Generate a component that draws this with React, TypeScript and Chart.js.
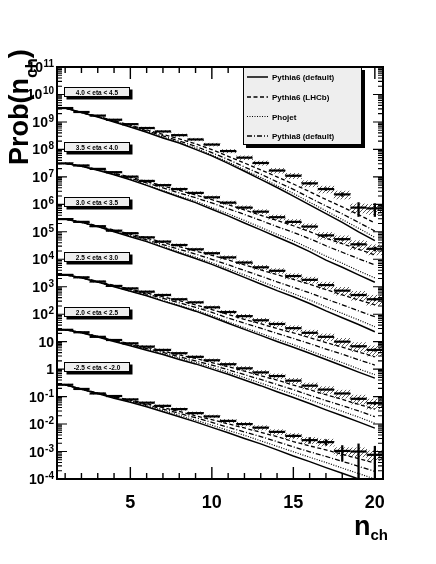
import React, { useEffect, useRef } from "react";
import { Chart, registerables } from "chart.js";

Chart.register(...registerables);

// ---------------- data ----------------
const nch = [1, 2, 3, 4, 5, 6, 7, 8, 9, 10, 11, 12, 13, 14, 15, 16, 17, 18, 19, 20];

const etaLabels = [
  "4.0 < eta < 4.5",
  "3.5 < eta < 4.0",
  "3.0 < eta < 3.5",
  "2.5 < eta < 3.0",
  "2.0 < eta < 2.5",
  "-2.5 < eta < -2.0",
];

const legendLabels = ["Pythia6 (default)", "Pythia6 (LHCb)", "Phojet", "Pythia8 (default)"];

// relative systematic uncertainty (hatched band)
const sysRel = [0.05, 0.05, 0.05, 0.06, 0.07, 0.08, 0.09, 0.1, 0.11, 0.12, 0.14, 0.16, 0.18, 0.2, 0.22, 0.25, 0.28, 0.32, 0.36, 0.4];

// 4.0 < eta < 4.5 (x 1e10)
const data_40_45 = [3.2e9, 2.3e9, 1.7e9, 1.2e9, 8.3e8, 6.0e8, 4.5e8, 3.3e8, 2.3e8, 1.5e8, 8.7e7, 5.0e7, 3.2e7, 1.7e7, 1.1e7, 5.8e6, 3.6e6, 2.3e6, 7.6e5, 7.1e5];
const stat_40_45 = [0, 0, 0, 0, 0, 0, 0, 0, 0, 0, 0, 0, 0, 0, 8e5, 4.5e5, 4e5, 3.5e5, 4e5, 3.5e5];
const p6def_40_45 = [3.2e9, 2.2e9, 1.5e9, 1.0e9, 6.5e8, 4.2e8, 2.6e8, 1.7e8, 1.0e8, 5.8e7, 3.1e7, 1.6e7, 8.1e6, 4.1e6, 2.0e6, 9.5e5, 4.6e5, 2.2e5, 1.0e5, 4.8e4];
const p6lhcb_40_45 = [3.2e9, 2.2e9, 1.6e9, 1.1e9, 7.6e8, 5.1e8, 3.5e8, 2.4e8, 1.6e8, 9.8e7, 5.6e7, 3.2e7, 1.8e7, 1.0e7, 5.5e6, 2.9e6, 1.5e6, 8.1e5, 4.2e5, 2.1e5];
const phojet_40_45 = [3.2e9, 2.2e9, 1.55e9, 1.05e9, 6.6e8, 4.4e8, 2.8e8, 1.8e8, 1.1e8, 6.3e7, 3.5e7, 1.8e7, 9.5e6, 4.8e6, 2.5e6, 1.2e6, 5.8e5, 2.8e5, 1.35e5, 6.3e4];
const p8def_40_45 = [3.2e9, 2.2e9, 1.55e9, 1.07e9, 7.1e8, 4.7e8, 3.1e8, 2.0e8, 1.3e8, 7.6e7, 4.3e7, 2.3e7, 1.26e7, 6.6e6, 3.5e6, 1.74e6, 8.7e5, 4.5e5, 2.2e5, 1.07e5];

// 3.5 < eta < 4.0 (x 1e8)
const data_35_40 = [3.1e7, 2.6e7, 1.95e7, 1.48e7, 1.02e7, 7.1e6, 5.0e6, 3.6e6, 2.6e6, 1.8e6, 1.15e6, 7.6e5, 5.4e5, 3.4e5, 2.3e5, 1.55e5, 7.4e4, 5.4e4, 3.5e4, 2.4e4];
const stat_35_40 = [0, 0, 0, 0, 0, 0, 0, 0, 0, 0, 0, 0, 0, 0, 0, 0, 6e3, 5e3, 5e3, 4e3];
const p6def_35_40 = [3.1e7, 2.45e7, 1.74e7, 1.2e7, 7.8e6, 4.9e6, 3.0e6, 1.86e6, 1.15e6, 6.6e5, 3.8e5, 2.1e5, 1.17e5, 6.5e4, 3.6e4, 1.9e4, 9.3e3, 5.1e3, 2.7e3, 1.45e3];
const p6lhcb_35_40 = [3.1e7, 2.5e7, 1.86e7, 1.38e7, 9.8e6, 6.8e6, 4.7e6, 3.2e6, 2.2e6, 1.48e6, 9.8e5, 6.3e5, 4.0e5, 2.6e5, 1.66e5, 1.02e5, 5.9e4, 3.7e4, 2.3e4, 1.45e4];
const phojet_35_40 = [3.1e7, 2.45e7, 1.78e7, 1.23e7, 8.1e6, 5.1e6, 3.2e6, 2.0e6, 1.3e6, 7.6e5, 4.5e5, 2.6e5, 1.45e5, 8.1e4, 4.7e4, 2.5e4, 1.3e4, 7.2e3, 3.8e3, 2.1e3];
const p8def_35_40 = [3.1e7, 2.45e7, 1.8e7, 1.3e7, 8.9e6, 6.0e6, 4.0e6, 2.6e6, 1.74e6, 1.12e6, 6.9e5, 4.3e5, 2.6e5, 1.55e5, 9.5e4, 5.6e4, 3.1e4, 1.8e4, 1.05e4, 6.3e3];

// 3.0 < eta < 3.5 (x 1e6)
const data_30_35 = [2.9e5, 2.3e5, 1.6e5, 1.1e5, 8.9e4, 6.3e4, 4.4e4, 3.3e4, 2.3e4, 1.66e4, 1.17e4, 7.6e3, 5.1e3, 3.8e3, 2.45e3, 1.78e3, 1.15e3, 720, 500, 350];
const stat_30_35 = [0, 0, 0, 0, 0, 0, 0, 0, 0, 0, 0, 0, 0, 0, 0, 0, 0, 0, 40, 35];
const p6def_30_35 = [2.9e5, 2.2e5, 1.55e5, 1.0e5, 6.6e4, 4.4e4, 2.7e4, 1.7e4, 1.07e4, 6.5e3, 3.8e3, 2.2e3, 1.26e3, 720, 430, 245, 132, 74, 42, 23];
const p6lhcb_30_35 = [2.9e5, 2.3e5, 1.62e5, 1.15e5, 8.3e4, 5.9e4, 4.1e4, 2.9e4, 2.0e4, 1.4e4, 9.5e3, 6.3e3, 4.1e3, 2.75e3, 1.86e3, 1.23e3, 790, 510, 330, 220];
const phojet_30_35 = [2.9e5, 2.2e5, 1.55e5, 1.02e5, 6.9e4, 4.6e4, 2.9e4, 1.86e4, 1.2e4, 7.4e3, 4.5e3, 2.7e3, 1.58e3, 930, 560, 330, 186, 107, 62, 35];
const p8def_30_35 = [2.9e5, 2.2e5, 1.6e5, 1.07e5, 7.6e4, 5.1e4, 3.4e4, 2.3e4, 1.55e4, 1.0e4, 6.3e3, 3.9e3, 2.45e3, 1.5e3, 950, 600, 360, 220, 132, 81];

// 2.5 < eta < 3.0 (x 1e4)
const data_25_30 = [2.7e3, 2.2e3, 1.55e3, 1.07e3, 870, 660, 500, 350, 270, 178, 120, 85, 60, 44, 31, 21, 15, 10, 6.8, 5.0];
const stat_25_30 = [0, 0, 0, 0, 0, 0, 0, 0, 0, 0, 0, 0, 0, 0, 0, 0, 0, 0, 0.6, 0.5];
const p6def_25_30 = [2.7e3, 2.1e3, 1.48e3, 1.0e3, 680, 470, 300, 200, 129, 79, 47, 28, 17, 10.2, 6.3, 3.8, 2.24, 1.32, 0.78, 0.47];
const p6lhcb_25_30 = [2.7e3, 2.2e3, 1.55e3, 1.12e3, 810, 600, 430, 310, 220, 148, 98, 65, 45, 30, 21, 14, 9.3, 6.3, 4.2, 2.8];
const phojet_25_30 = [2.7e3, 2.1e3, 1.48e3, 1.02e3, 690, 480, 320, 210, 141, 89, 52, 32, 20, 12.3, 7.8, 4.7, 2.8, 1.74, 1.02, 0.63];
const p8def_25_30 = [2.7e3, 2.1e3, 1.5e3, 1.07e3, 760, 540, 380, 260, 178, 117, 72, 47, 31, 20, 13.2, 8.5, 5.4, 3.5, 2.2, 1.41];

// 2.0 < eta < 2.5 (x 1e2)
const data_20_25 = [27, 22, 15, 11.5, 8.7, 6.6, 5.0, 3.8, 2.8, 2.1, 1.51, 1.07, 0.76, 0.56, 0.38, 0.25, 0.18, 0.13, 0.083, 0.058];
const stat_20_25 = [0, 0, 0, 0, 0, 0, 0, 0, 0, 0, 0, 0, 0, 0, 0, 0, 0, 0, 0.008, 0.007];
const p6def_20_25 = [27, 21, 14.8, 10.2, 7.1, 4.9, 3.4, 2.24, 1.55, 1.0, 0.65, 0.4, 0.25, 0.15, 0.093, 0.056, 0.033, 0.02, 0.012, 0.0071];
const p6lhcb_20_25 = [27, 22, 15.5, 11.2, 8.3, 6.2, 4.6, 3.3, 2.45, 1.74, 1.23, 0.85, 0.575, 0.4, 0.263, 0.178, 0.117, 0.079, 0.052, 0.035];
const phojet_20_25 = [27, 21, 15, 10.5, 7.4, 5.2, 3.6, 2.5, 1.74, 1.15, 0.76, 0.49, 0.31, 0.195, 0.123, 0.076, 0.047, 0.029, 0.018, 0.0107];
const p8def_20_25 = [27, 22, 15.5, 10.7, 7.8, 5.6, 4.1, 2.8, 2.0, 1.41, 0.95, 0.63, 0.42, 0.275, 0.178, 0.112, 0.072, 0.047, 0.03, 0.0186];

// -2.5 < eta < -2.0 (x 1)
const data_m25_m20 = [0.27, 0.19, 0.13, 0.105, 0.079, 0.06, 0.046, 0.035, 0.025, 0.019, 0.013, 0.01, 0.0074, 0.0052, 0.0037, 0.0026, 0.0022, 0.00105, 0.001, 0.00076];
const stat_m25_m20 = [0, 0, 0, 0, 0, 0, 0, 0, 0, 0, 0, 0, 0, 0, 0.0004, 0.0006, 0.0005, 0.0006, 0.0009, 0.0008];
const p6def_m25_m20 = [0.27, 0.186, 0.129, 0.087, 0.062, 0.043, 0.028, 0.0186, 0.012, 0.0076, 0.0048, 0.003, 0.0019, 0.00115, 0.00069, 0.00043, 0.00026, 0.000162, 0.0001, 0.00006];
const p6lhcb_m25_m20 = [0.27, 0.19, 0.135, 0.098, 0.074, 0.055, 0.04, 0.029, 0.02, 0.0145, 0.0102, 0.0072, 0.005, 0.0035, 0.0023, 0.0016, 0.00115, 0.00079, 0.00055, 0.00038];
const phojet_m25_m20 = [0.27, 0.186, 0.129, 0.091, 0.065, 0.046, 0.031, 0.021, 0.0138, 0.0091, 0.0059, 0.0039, 0.00245, 0.00155, 0.00098, 0.00062, 0.0004, 0.00025, 0.000158, 0.0001];
const p8def_m25_m20 = [0.27, 0.186, 0.132, 0.093, 0.069, 0.05, 0.035, 0.0245, 0.017, 0.0115, 0.0076, 0.0052, 0.0035, 0.0023, 0.00148, 0.00098, 0.00066, 0.00044, 0.00029, 0.00019];

const groups = [
  { data: data_40_45, stat: stat_40_45, mc: [p6def_40_45, p6lhcb_40_45, phojet_40_45, p8def_40_45] },
  { data: data_35_40, stat: stat_35_40, mc: [p6def_35_40, p6lhcb_35_40, phojet_35_40, p8def_35_40] },
  { data: data_30_35, stat: stat_30_35, mc: [p6def_30_35, p6lhcb_30_35, phojet_30_35, p8def_30_35] },
  { data: data_25_30, stat: stat_25_30, mc: [p6def_25_30, p6lhcb_25_30, phojet_25_30, p8def_25_30] },
  { data: data_20_25, stat: stat_20_25, mc: [p6def_20_25, p6lhcb_20_25, phojet_20_25, p8def_20_25] },
  { data: data_m25_m20, stat: stat_m25_m20, mc: [p6def_m25_m20, p6lhcb_m25_m20, phojet_m25_m20, p8def_m25_m20] },
];

// ---------------- styling ----------------
const FONT = "'Liberation Sans', Arial, Helvetica, sans-serif";
const MC_DASH: number[][] = [[], [4, 2.5], [1, 1.5], [5, 2, 1, 2]];
const MC_WIDTH = [1.5, 1.3, 1.2, 1.3];
const ETA_LABEL_POS = [1.2e10, 1.2e8, 1.2e6, 1.2e4, 1.2e2, 1.2];

function makeHatch(): CanvasPattern | string {
  const c = document.createElement("canvas");
  c.width = 4;
  c.height = 4;
  const g = c.getContext("2d");
  if (!g) return "rgba(0,0,0,0.3)";
  g.strokeStyle = "rgba(0,0,0,0.8)";
  g.lineWidth = 0.8;
  g.beginPath();
  g.moveTo(0, 4);
  g.lineTo(4, 0);
  g.moveTo(-1, 1);
  g.lineTo(1, -1);
  g.moveTo(3, 5);
  g.lineTo(5, 3);
  g.stroke();
  return g.createPattern(c, "repeat") || "rgba(0,0,0,0.3)";
}

const rootPlugin = {
  id: "rootStyle",
  afterDraw(chart: any) {
    const { ctx, chartArea: a } = chart;
    const x = chart.scales.x;
    const y = chart.scales.y;
    ctx.save();

    // ticks
    ctx.strokeStyle = "#000";
    ctx.lineWidth = 1.4;
    ctx.beginPath();
    for (const n of nch) {
      const px = x.getPixelForValue(n);
      const len = n % 5 === 0 ? 12 : 6;
      ctx.moveTo(px, a.bottom);
      ctx.lineTo(px, a.bottom - len);
      ctx.moveTo(px, a.top);
      ctx.lineTo(px, a.top + len);
    }
    ctx.stroke();
    ctx.lineWidth = 1.1;
    ctx.beginPath();
    for (let d = -4; d <= 11; d++) {
      for (let m = 1; m <= 9; m++) {
        if (d === 11 && m > 1) continue;
        const py = y.getPixelForValue(m * Math.pow(10, d));
        const len = m === 1 ? 10 : 5;
        ctx.moveTo(a.left, py);
        ctx.lineTo(a.left + len, py);
        ctx.moveTo(a.right, py);
        ctx.lineTo(a.right - len, py);
      }
    }
    ctx.stroke();

    // frame
    ctx.lineWidth = 2;
    ctx.strokeRect(a.left, a.top, a.right - a.left, a.bottom - a.top);

    // y tick labels
    ctx.fillStyle = "#000";
    ctx.textAlign = "left";
    ctx.textBaseline = "alphabetic";
    for (let d = -4; d <= 11; d++) {
      const py = y.getPixelForValue(Math.pow(10, d));
      const base = d === 0 ? "1" : "10";
      const sup = d === 0 || d === 1 ? "" : String(d);
      ctx.font = `bold 14px ${FONT}`;
      const wb = ctx.measureText(base).width;
      ctx.font = `bold 10px ${FONT}`;
      const ws = sup ? ctx.measureText(sup).width + 0.5 : 0;
      const right = a.left - 3;
      ctx.font = `bold 14px ${FONT}`;
      ctx.fillText(base, right - ws - wb, py + 5);
      if (sup) {
        ctx.font = `bold 10px ${FONT}`;
        ctx.fillText(sup, right - ws + 0.5, py);
      }
    }

    // x tick labels
    ctx.font = `bold 18px ${FONT}`;
    ctx.textAlign = "center";
    for (const v of [5, 10, 15, 20]) {
      ctx.fillText(String(v), x.getPixelForValue(v), a.bottom + 29);
    }

    // x title n_ch
    ctx.textAlign = "left";
    ctx.font = `bold 27px ${FONT}`;
    ctx.fillText("n", 354, 535);
    const wn = ctx.measureText("n").width;
    ctx.font = `bold 15px ${FONT}`;
    ctx.fillText("ch", 354 + wn, 540);

    // y title Prob(n_ch)
    ctx.save();
    ctx.translate(28, 165);
    ctx.rotate(-Math.PI / 2);
    ctx.font = `bold 27px ${FONT}`;
    ctx.fillText("Prob(n", 0, 0);
    let off = ctx.measureText("Prob(n").width;
    ctx.font = `bold 17px ${FONT}`;
    ctx.fillText("ch", off, 9);
    off += ctx.measureText("ch").width;
    ctx.font = `bold 27px ${FONT}`;
    ctx.fillText(")", off, 0);
    ctx.restore();

    // eta label boxes
    for (let i = 0; i < etaLabels.length; i++) {
      const cy = y.getPixelForValue(ETA_LABEL_POS[i]);
      const bx = 64, bw = 66, bh = 10;
      const by = Math.round(cy - bh / 2);
      ctx.fillStyle = "#000";
      ctx.fillRect(bx + 2.5, by + 2.5, bw, bh);
      ctx.fillStyle = "#eeeeee";
      ctx.fillRect(bx, by, bw, bh);
      ctx.strokeStyle = "#000";
      ctx.lineWidth = 1;
      ctx.strokeRect(bx + 0.5, by + 0.5, bw - 1, bh - 1);
      ctx.fillStyle = "#000";
      ctx.font = `bold 6.5px ${FONT}`;
      ctx.textAlign = "center";
      ctx.fillText(etaLabels[i], bx + bw / 2, by + 7.5);
    }

    // legend
    const lx = 243, ly = 67, lw = 119, lh = 78;
    ctx.fillStyle = "#000";
    ctx.fillRect(lx + 3, ly + 3, lw, lh);
    ctx.fillStyle = "#eeeeee";
    ctx.fillRect(lx, ly, lw, lh);
    ctx.strokeStyle = "#000";
    ctx.lineWidth = 1;
    ctx.strokeRect(lx + 0.5, ly + 0.5, lw - 1, lh - 1);
    const rows = [77, 97, 116.5, 136];
    for (let i = 0; i < legendLabels.length; i++) {
      const ry = rows[i];
      ctx.setLineDash(MC_DASH[i]);
      ctx.lineWidth = MC_WIDTH[i];
      ctx.beginPath();
      ctx.moveTo(247, ry);
      ctx.lineTo(268, ry);
      ctx.stroke();
      ctx.setLineDash([]);
      ctx.fillStyle = "#000";
      ctx.font = `bold 8px ${FONT}`;
      ctx.textAlign = "left";
      ctx.fillText(legendLabels[i], 272, ry + 3);
    }
    ctx.restore();
  },
};

export default function App() {
  const ref = useRef<HTMLCanvasElement>(null);

  useEffect(() => {
    document.body.style.margin = "0";
    const canvas = ref.current;
    if (!canvas) return;
    const hatch = makeHatch();

    const halfBin = (c: any) => {
      const sx = c.chart.scales.x;
      return Math.abs(sx.getPixelForValue(1.5) - sx.getPixelForValue(1));
    };

    const datasets: any[] = [];
    groups.forEach((g) => {
      // systematic band (hatched boxes)
      datasets.push({
        type: "bar",
        data: nch.map((n, i) => ({ x: n, y: [g.data[i] * (1 - sysRel[i]), g.data[i] * (1 + sysRel[i])] })),
        backgroundColor: hatch,
        borderWidth: 0,
        grouped: false,
        barPercentage: 1,
        categoryPercentage: 1,
        clip: 0,
        order: 3,
      });
      // MC curves
      g.mc.forEach((vals, k) => {
        datasets.push({
          type: "line",
          data: nch.map((n, i) => ({ x: n, y: vals[i] })),
          borderColor: "#000",
          borderWidth: MC_WIDTH[k],
          borderDash: MC_DASH[k],
          pointRadius: 0,
          tension: 0,
          fill: false,
          order: 2,
        });
      });
      // statistical error bars
      datasets.push({
        type: "bar",
        data: nch
          .map((n, i) => ({ n, i }))
          .filter((o) => g.stat[o.i] > 0)
          .map((o) => ({ x: o.n, y: [Math.max(g.data[o.i] - g.stat[o.i], 1e-7), g.data[o.i] + g.stat[o.i]] })),
        backgroundColor: "#000",
        borderWidth: 0,
        grouped: false,
        barThickness: 1.6,
        clip: 0,
        order: 1,
      });
      // data points (horizontal bin markers)
      datasets.push({
        type: "scatter",
        data: nch.map((n, i) => ({ x: n, y: g.data[i] })),
        showLine: false,
        pointStyle: "line",
        pointRadius: halfBin,
        pointHoverRadius: halfBin,
        pointBorderWidth: 2.2,
        pointBorderColor: "#000",
        pointBackgroundColor: "#000",
        order: 0,
      });
    });

    const chart = new Chart(canvas, {
      type: "scatter",
      data: { datasets },
      options: {
        animation: false,
        responsive: false,
        devicePixelRatio: 1,
        events: [],
        layout: { padding: { left: 57, right: 53, top: 67, bottom: 85 } },
        plugins: { legend: { display: false }, tooltip: { enabled: false } },
        scales: {
          x: {
            type: "linear",
            display: false,
            offset: false,
            grid: { offset: false },
            min: 0.5,
            max: 20.5,
            afterBuildTicks: (s: any) => {
              s.ticks = nch.map((v) => ({ value: v }));
            },
          },
          y: {
            type: "logarithmic",
            display: false,
            offset: false,
            min: 1e-4,
            max: 1e11,
          },
        },
      } as any,
      plugins: [rootPlugin],
    } as any);

    return () => chart.destroy();
  }, []);

  return (
    <div style={{ width: 436, height: 564, background: "#fff" }}>
      <canvas ref={ref} width={436} height={564} style={{ display: "block" }} />
    </div>
  );
}
